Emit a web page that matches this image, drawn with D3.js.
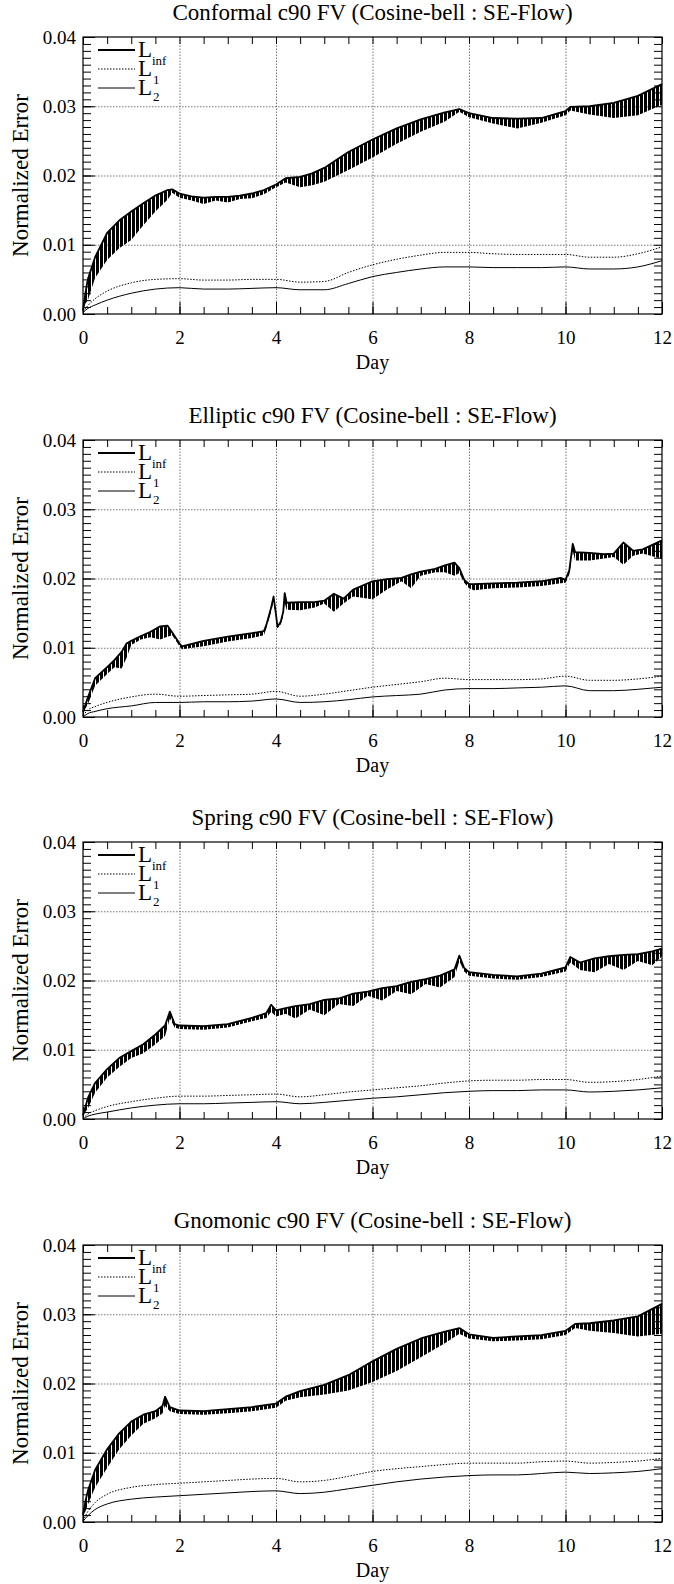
<!DOCTYPE html>
<html><head><meta charset="utf-8">
<script src="https://cdn.jsdelivr.net/npm/d3@7"></script>
<style>
body{margin:0;background:#fff}
svg{display:block}
svg text{font-family:"Liberation Serif","Times New Roman",serif !important;fill:#000}
</style></head><body>
<svg id="fig" width="674" height="1584"></svg>
<script>
// ---- shared axes ----
const xTicks = [0, 2, 4, 6, 8, 10, 12];
const yTicks = [0, 0.01, 0.02, 0.03, 0.04];
const titles = [
  "Conformal c90 FV (Cosine-bell : SE-Flow)",
  "Elliptic c90 FV (Cosine-bell : SE-Flow)",
  "Spring c90 FV (Cosine-bell : SE-Flow)",
  "Gnomonic c90 FV (Cosine-bell : SE-Flow)"
];
// days at which the smooth L1 / L2 norms are sampled
const smoothDays = [0, 0.1, 0.25, 0.5, 1, 1.5, 2, 2.5, 3, 3.5, 4, 4.5, 5, 5.5, 6, 6.5, 7, 7.5, 8, 8.5, 9, 9.5, 10, 10.5, 11, 11.5, 12];

// ---- Conformal ----
const conformalDays = [0, 0.05, 0.1, 0.25, 0.5, 0.75, 1, 1.25, 1.5, 1.75, 1.85, 2, 2.25, 2.5, 2.75, 3, 3.25, 3.5, 3.75, 4, 4.2, 4.5, 4.75, 5, 5.5, 6, 6.5, 7, 7.5, 7.8, 8, 8.5, 9, 9.5, 10, 10.1, 10.5, 11, 11.5, 12];
const conformalLinfHi = [0.0005, 0.003, 0.005, 0.0082, 0.0117, 0.0135, 0.0148, 0.016, 0.0171, 0.0179, 0.018, 0.0174, 0.017, 0.0168, 0.0169, 0.0169, 0.0171, 0.0174, 0.0179, 0.0187, 0.0196, 0.0198, 0.0203, 0.0211, 0.0234, 0.0252, 0.0268, 0.0281, 0.0291, 0.0296, 0.029, 0.0283, 0.0282, 0.0283, 0.0293, 0.0299, 0.03, 0.0305, 0.0315, 0.0332];
const conformalLinfLo = [0.0005, 0.0015, 0.002, 0.0052, 0.0078, 0.0095, 0.0107, 0.0128, 0.0148, 0.0165, 0.0175, 0.0168, 0.0164, 0.0159, 0.0164, 0.0161, 0.0166, 0.0167, 0.0173, 0.0183, 0.019, 0.0183, 0.0186, 0.0191, 0.0208, 0.0226, 0.0246, 0.0263, 0.0278, 0.0292, 0.0284, 0.0275, 0.0268, 0.0276, 0.0287, 0.0294, 0.0288, 0.0283, 0.0287, 0.0302];
const conformalL1 = [0.0003, 0.0012, 0.0022, 0.0033, 0.0045, 0.005, 0.0051, 0.0049, 0.0049, 0.005, 0.005, 0.0046, 0.0047, 0.006, 0.0071, 0.0079, 0.0085, 0.0089, 0.0089, 0.0087, 0.0086, 0.0086, 0.0086, 0.0082, 0.0082, 0.0087, 0.0097];
const conformalL2 = [0.0002, 0.0008, 0.0013, 0.002, 0.003, 0.0036, 0.0038, 0.0036, 0.0036, 0.0037, 0.0038, 0.0035, 0.0035, 0.0044, 0.0054, 0.006, 0.0065, 0.0068, 0.0068, 0.0067, 0.0067, 0.0067, 0.0068, 0.0065, 0.0065, 0.0068, 0.0077];

// ---- Elliptic ----
const ellipticDays = [0, 0.1, 0.25, 0.5, 0.65, 0.8, 0.9, 1, 1.2, 1.4, 1.6, 1.75, 1.85, 2, 2.05, 2.5, 3, 3.5, 3.75, 3.8, 3.9, 3.95, 4, 4.03, 4.1, 4.15, 4.18, 4.22, 4.5, 4.8, 5, 5.2, 5.4, 5.6, 6, 6.3, 6.6, 6.8, 7, 7.3, 7.5, 7.7, 7.8, 7.9, 8, 8.1, 8.5, 9, 9.5, 9.9, 10, 10.08, 10.15, 10.2, 10.5, 10.8, 11, 11.2, 11.4, 11.6, 12];
const ellipticLinfHi = [0.0007, 0.0028, 0.0056, 0.0072, 0.0082, 0.0094, 0.0106, 0.011, 0.0117, 0.0123, 0.0131, 0.0132, 0.0122, 0.0106, 0.0102, 0.011, 0.0116, 0.0121, 0.0124, 0.0133, 0.0158, 0.0174, 0.0148, 0.013, 0.0138, 0.0152, 0.0179, 0.0165, 0.0166, 0.0166, 0.0168, 0.0178, 0.0171, 0.0184, 0.0196, 0.0199, 0.0201, 0.0206, 0.021, 0.0214, 0.0219, 0.0223, 0.0215, 0.0198, 0.0192, 0.0192, 0.0193, 0.0194, 0.0196, 0.0201, 0.0198, 0.0212, 0.025, 0.0238, 0.0237, 0.0235, 0.0236, 0.0252, 0.024, 0.0242, 0.0255];
const ellipticLinfLo = [0.0007, 0.0018, 0.0045, 0.0062, 0.0072, 0.007, 0.0085, 0.0104, 0.0112, 0.0115, 0.0112, 0.0116, 0.0118, 0.0102, 0.0098, 0.0102, 0.0109, 0.0114, 0.0118, 0.0128, 0.0152, 0.0168, 0.0143, 0.0128, 0.0134, 0.0146, 0.0165, 0.0155, 0.0154, 0.0158, 0.0164, 0.0152, 0.0164, 0.0174, 0.017, 0.0184, 0.0196, 0.0186, 0.0204, 0.0209, 0.0209, 0.0204, 0.0208, 0.0194, 0.0186, 0.0183, 0.0186, 0.0187, 0.0189, 0.0193, 0.0194, 0.0206, 0.024, 0.0226, 0.0226, 0.0229, 0.0231, 0.022, 0.0233, 0.0236, 0.0228];
const ellipticL1 = [0.0002, 0.001, 0.0015, 0.0021, 0.0029, 0.0033, 0.003, 0.0031, 0.0032, 0.0033, 0.0037, 0.003, 0.0033, 0.0038, 0.0043, 0.0047, 0.0051, 0.0056, 0.0054, 0.0054, 0.0054, 0.0055, 0.0059, 0.0053, 0.0053, 0.0055, 0.0059];
const ellipticL2 = [0, 0.0005, 0.0008, 0.0012, 0.0016, 0.0021, 0.0021, 0.0022, 0.0022, 0.0023, 0.0026, 0.0021, 0.0022, 0.0025, 0.0029, 0.0031, 0.0033, 0.0039, 0.0041, 0.0041, 0.0042, 0.0043, 0.0045, 0.0038, 0.0038, 0.004, 0.0043];

// ---- Spring ----
const springDays = [0, 0.1, 0.25, 0.5, 0.75, 1, 1.25, 1.5, 1.7, 1.8, 1.9, 2, 2.5, 3, 3.5, 3.8, 3.9, 4, 4.2, 4.4, 4.7, 5, 5.3, 5.6, 5.9, 6.2, 6.5, 6.8, 7.1, 7.4, 7.7, 7.8, 7.9, 8, 8.5, 9, 9.5, 10, 10.1, 10.3, 10.6, 10.9, 11.2, 11.5, 11.8, 12];
const springLinfHi = [0.0005, 0.003, 0.0052, 0.0072, 0.0088, 0.0098, 0.0108, 0.0122, 0.0135, 0.0155, 0.0137, 0.0135, 0.0134, 0.0137, 0.0146, 0.0153, 0.0165, 0.0157, 0.016, 0.0163, 0.0166, 0.0172, 0.0174, 0.0181, 0.0184, 0.0189, 0.0192, 0.0198, 0.0202, 0.0207, 0.0216, 0.0236, 0.0218, 0.0212, 0.0208, 0.0206, 0.021, 0.0219, 0.0234, 0.0226, 0.0232, 0.0235, 0.0237, 0.0238, 0.0242, 0.0246];
const springLinfLo = [0.0005, 0.0015, 0.0038, 0.006, 0.0075, 0.0088, 0.0095, 0.0108, 0.012, 0.0145, 0.0132, 0.013, 0.0129, 0.0132, 0.0141, 0.0146, 0.0155, 0.0148, 0.0152, 0.0145, 0.0158, 0.015, 0.0166, 0.0163, 0.0178, 0.0171, 0.0185, 0.018, 0.0195, 0.019, 0.0205, 0.0228, 0.0213, 0.0207, 0.0203, 0.0201, 0.0205, 0.0213, 0.0226, 0.0215, 0.0212, 0.0224, 0.0215, 0.0228, 0.0222, 0.0235];
const springL1 = [0.0001, 0.0007, 0.0012, 0.0018, 0.0025, 0.003, 0.0033, 0.0033, 0.0034, 0.0035, 0.0036, 0.0032, 0.0035, 0.0039, 0.0042, 0.0045, 0.0048, 0.0052, 0.0055, 0.0056, 0.0056, 0.0057, 0.0057, 0.0053, 0.0054, 0.0057, 0.0062];
const springL2 = [0, 0.0004, 0.0007, 0.001, 0.0016, 0.002, 0.0022, 0.0022, 0.0023, 0.0024, 0.0025, 0.0022, 0.0024, 0.0027, 0.003, 0.0032, 0.0035, 0.0038, 0.004, 0.0041, 0.0041, 0.0042, 0.0042, 0.0039, 0.004, 0.0042, 0.0045];

// ---- Gnomonic ----
const gnomonicDays = [0, 0.05, 0.1, 0.25, 0.5, 0.75, 1, 1.25, 1.5, 1.65, 1.7, 1.8, 2, 2.5, 3, 3.5, 4, 4.2, 4.5, 5, 5.5, 6, 6.5, 7, 7.5, 7.8, 8, 8.5, 9, 9.5, 10, 10.2, 10.5, 11, 11.5, 12];
const gnomonicLinfHi = [0.001, 0.003, 0.0045, 0.0075, 0.0105, 0.0128, 0.0145, 0.0155, 0.016, 0.0168, 0.0181, 0.0166, 0.0161, 0.016, 0.0163, 0.0166, 0.0171, 0.0181, 0.0189, 0.0198, 0.0212, 0.0232, 0.025, 0.0265, 0.0275, 0.028, 0.0271, 0.0266, 0.0268, 0.027, 0.0276, 0.0286, 0.0287, 0.0291, 0.0297, 0.0315];
const gnomonicLinfLo = [0.001, 0.0015, 0.0025, 0.005, 0.0078, 0.0105, 0.0125, 0.0142, 0.015, 0.0157, 0.0168, 0.016, 0.0156, 0.0155, 0.0157, 0.016, 0.0165, 0.0175, 0.018, 0.0184, 0.019, 0.0202, 0.0218, 0.0238, 0.0258, 0.0272, 0.0265, 0.0261, 0.0262, 0.0264, 0.027, 0.028, 0.0276, 0.0273, 0.0268, 0.0272];
const gnomonicL1 = [0.0002, 0.0015, 0.0028, 0.004, 0.005, 0.0054, 0.0056, 0.0058, 0.006, 0.0062, 0.0063, 0.0058, 0.006, 0.0066, 0.0073, 0.0077, 0.008, 0.0083, 0.0085, 0.0085, 0.0085, 0.0087, 0.0088, 0.0085, 0.0086, 0.0088, 0.0092];
const gnomonicL2 = [0.0001, 0.0009, 0.0018, 0.0026, 0.0033, 0.0036, 0.0038, 0.004, 0.0042, 0.0044, 0.0045, 0.0041, 0.0043, 0.0048, 0.0053, 0.0058, 0.0062, 0.0065, 0.0067, 0.0068, 0.0068, 0.007, 0.0072, 0.007, 0.0071, 0.0073, 0.0077];

const panels = [
  { title: titles[0], days: conformalDays, hi: conformalLinfHi, lo: conformalLinfLo, l1: conformalL1, l2: conformalL2 },
  { title: titles[1], days: ellipticDays, hi: ellipticLinfHi, lo: ellipticLinfLo, l1: ellipticL1, l2: ellipticL2 },
  { title: titles[2], days: springDays, hi: springLinfHi, lo: springLinfLo, l1: springL1, l2: springL2 },
  { title: titles[3], days: gnomonicDays, hi: gnomonicLinfHi, lo: gnomonicLinfLo, l1: gnomonicL1, l2: gnomonicL2 }
];

// ---- layout ----
const left = 83, right = 662, plotH = 277, top0 = 37, pitch = 402.7;
const FONT = '"Liberation Serif","Times New Roman",serif';
const x = d3.scaleLinear().domain([0, 12]).range([left, right]);
const svg = d3.select("#fig");

// dense vertical hatching used to render the oscillating L-inf envelope
svg.append("defs").append("pattern")
  .attr("id", "hatch").attr("patternUnits", "userSpaceOnUse")
  .attr("width", 4).attr("height", 6)
  .append("rect").attr("x", 0).attr("y", 0).attr("width", 3).attr("height", 6).attr("fill", "#000");

const xMinor = d3.range(0, 12.001, 0.5);
const yMinor = d3.range(0, 0.04001, 0.001);
const gridDays = [2, 4, 6, 8, 10];
const gridVals = [0.01, 0.02, 0.03];

function styleTicks(sel, w) {
  sel.select(".domain").remove();
  sel.selectAll("line").attr("stroke", "#000").attr("stroke-width", w);
}
function txt(sel, size) {
  return sel.style("font-family", FONT).attr("font-size", size);
}

panels.forEach((p, i) => {
  const top = Math.round(top0 + i * pitch);
  const bottom = top + plotH;
  const y = d3.scaleLinear().domain([0, 0.04]).range([bottom, top]);
  const g = svg.append("g");

  // grid
  g.append("g").attr("transform", `translate(0,${bottom})`)
    .call(d3.axisBottom(x).tickValues(gridDays).tickSize(-plotH).tickFormat(""))
    .call(s => { s.select(".domain").remove(); s.selectAll("line").attr("stroke", "#666").attr("stroke-width", 0.9).attr("stroke-dasharray", "1.5,1.5"); });
  g.append("g").attr("transform", `translate(${left},0)`)
    .call(d3.axisLeft(y).tickValues(gridVals).tickSize(-(right - left)).tickFormat(""))
    .call(s => { s.select(".domain").remove(); s.selectAll("line").attr("stroke", "#666").attr("stroke-width", 0.9).attr("stroke-dasharray", "1.5,1.5"); });

  // minor ticks (inward on all four sides)
  g.append("g").attr("transform", `translate(0,${bottom})`)
    .call(d3.axisBottom(x).tickValues(xMinor).tickSize(-7).tickFormat("")).call(s => styleTicks(s, 1));
  g.append("g").attr("transform", `translate(0,${top})`)
    .call(d3.axisTop(x).tickValues(xMinor).tickSize(-7).tickFormat("")).call(s => styleTicks(s, 1));
  g.append("g").attr("transform", `translate(${left},0)`)
    .call(d3.axisLeft(y).tickValues(yMinor).tickSize(-8).tickFormat("")).call(s => styleTicks(s, 1));
  g.append("g").attr("transform", `translate(${right},0)`)
    .call(d3.axisRight(y).tickValues(yMinor).tickSize(-8).tickFormat("")).call(s => styleTicks(s, 1));

  // labelled axes
  g.append("g").attr("transform", `translate(0,${bottom})`)
    .call(d3.axisBottom(x).tickValues(xTicks).tickSize(-12).tickPadding(17).tickFormat(d3.format("d")))
    .call(s => { styleTicks(s, 1); txt(s.selectAll("text"), 19); });
  g.append("g").attr("transform", `translate(${left},0)`)
    .call(d3.axisLeft(y).tickValues(yTicks).tickSize(-12).tickPadding(7).tickFormat(d3.format(".2f")))
    .call(s => { styleTicks(s, 1); txt(s.selectAll("text"), 19); });

  // frame
  g.append("rect").attr("x", left).attr("y", top).attr("width", right - left).attr("height", plotH)
    .attr("fill", "none").attr("stroke", "#000").attr("stroke-width", 1.2);

  // titles
  txt(g.append("text"), 23).attr("x", (left + right) / 2).attr("y", top - 17).attr("text-anchor", "middle").text(p.title);
  txt(g.append("text"), 20).attr("x", (left + right) / 2).attr("y", bottom + 55).attr("text-anchor", "middle").text("Day");
  txt(g.append("text"), 23).attr("transform", `translate(28,${(top + bottom) / 2}) rotate(-90)`)
    .attr("text-anchor", "middle").text("Normalized Error");

  // L-inf: oscillation envelope plus its upper edge
  const pts = p.days.map((d, k) => ({ d, hi: p.hi[k], lo: p.lo[k] }));
  g.append("path").datum(pts)
    .attr("d", d3.area().x(q => x(q.d)).y0(q => y(q.lo)).y1(q => y(q.hi)))
    .attr("fill", "url(#hatch)");
  g.append("path").datum(pts)
    .attr("d", d3.line().x(q => x(q.d)).y(q => y(q.hi)))
    .attr("fill", "none").attr("stroke", "#000").attr("stroke-width", 1.8).attr("stroke-linejoin", "round");

  // L1 (dotted) and L2 (thin solid)
  const smooth = d3.line().curve(d3.curveMonotoneX).x(q => x(q[0])).y(q => y(q[1]));
  g.append("path").attr("d", smooth(smoothDays.map((d, k) => [d, p.l1[k]])))
    .attr("fill", "none").attr("stroke", "#000").attr("stroke-width", 1).attr("stroke-dasharray", "1.5,1.5");
  g.append("path").attr("d", smooth(smoothDays.map((d, k) => [d, p.l2[k]])))
    .attr("fill", "none").attr("stroke", "#000").attr("stroke-width", 1);

  // legend
  const lg = g.append("g");
  const rows = [13, 32, 51];
  lg.append("line").attr("x1", 98).attr("x2", 135).attr("y1", top + rows[0]).attr("y2", top + rows[0])
    .attr("stroke", "#000").attr("stroke-width", 2);
  lg.append("line").attr("x1", 98).attr("x2", 135).attr("y1", top + rows[1]).attr("y2", top + rows[1])
    .attr("stroke", "#000").attr("stroke-width", 1).attr("stroke-dasharray", "1.5,1.5");
  lg.append("line").attr("x1", 98).attr("x2", 135).attr("y1", top + rows[2]).attr("y2", top + rows[2])
    .attr("stroke", "#000").attr("stroke-width", 1);
  txt(lg.append("text"), 23).attr("x", 138).attr("y", top + 20).text("L");
  txt(lg.append("text"), 23).attr("x", 138).attr("y", top + 39).text("L");
  txt(lg.append("text"), 13).attr("x", 152).attr("y", top + 28).text("inf");
  txt(lg.append("text"), 23).attr("x", 138).attr("y", top + 58).text("L");
  txt(lg.append("text"), 13).attr("x", 153).attr("y", top + 47).text("1");
  txt(lg.append("text"), 13).attr("x", 153).attr("y", top + 64).text("2");
});
</script>
</body></html>
